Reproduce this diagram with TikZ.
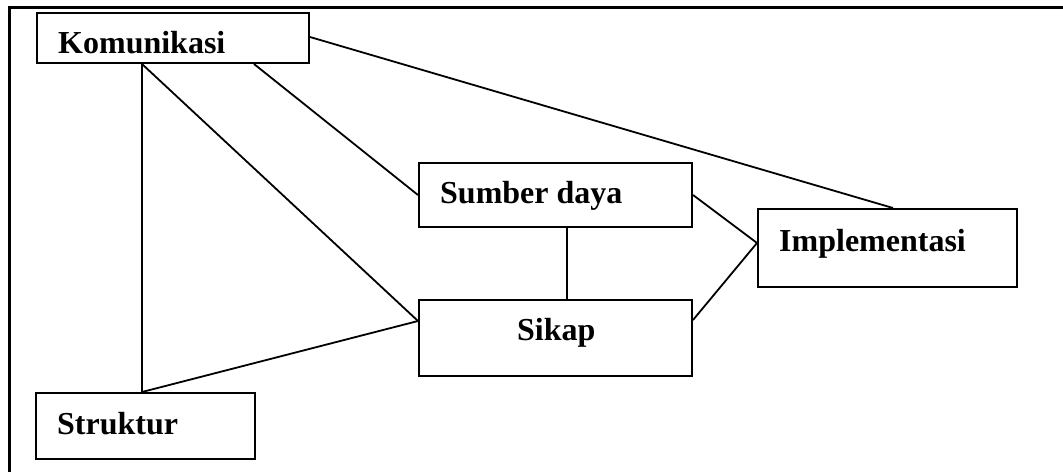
\documentclass[tikz,border=0pt]{standalone}
\usepackage{fontspec}
\setmainfont{Liberation Serif}
\begin{document}
\begin{tikzpicture}[x=1pt,y=-1pt,
  box/.style={draw,line width=2pt,rectangle,inner sep=0pt},
  lbl/.style={anchor=base west,inner sep=0pt,font=\bfseries\fontsize{32}{38}\selectfont},
  link/.style={line width=1.8pt},
  frame/.style={line width=3pt}]
\useasboundingbox (0,0) rectangle (1063,472);
% outer frame
\draw[frame] (1063,7) -- (9,7) -- (9,472);
% boxes
\node[box,minimum width=272.5pt,minimum height=50pt] (kom) at (172.75,38) {};
\node[box,minimum width=219pt,minimum height=66pt] (str) at (145.5,426) {};
\node[box,minimum width=273pt,minimum height=64pt] (sum) at (555.5,195) {};
\node[box,minimum width=273pt,minimum height=76pt] (sik) at (555.5,338) {};
\node[box,minimum width=259pt,minimum height=78pt] (imp) at (887.5,248) {};
% labels
\node[lbl] (komt) at (58,53) {Komunikasi};
\node[lbl] (strt) at (57,434) {Struktur};
\node[lbl] (sumt) at (440,203) {Sumber daya};
\node[lbl] (sikt) at (517,340) {Sikap};
\node[lbl] (impt) at (779,251) {Implementasi};
% connectors
\draw[link] ([xshift=106.5pt]kom.south west) -- ([xshift=107pt]str.north west);
\draw[link] ([xshift=106.5pt]kom.south west) -- ([yshift=17pt]sik.west);
\draw[link] ([xshift=107pt]str.north west) -- ([yshift=17pt]sik.west);
\draw[link] ([xshift=218.5pt]kom.south west) -- (sum.west);
\draw[link] ([yshift=1pt]kom.east) -- ([xshift=5.5pt]imp.north);
\draw[link] (sum.east) -- ([yshift=5pt]imp.west);
\draw[link] ([yshift=18pt]sik.east) -- ([yshift=5pt]imp.west);
\draw[link] ([xshift=11.5pt]sum.south) -- ([xshift=11.5pt]sik.north);
\end{tikzpicture}
\end{document}
